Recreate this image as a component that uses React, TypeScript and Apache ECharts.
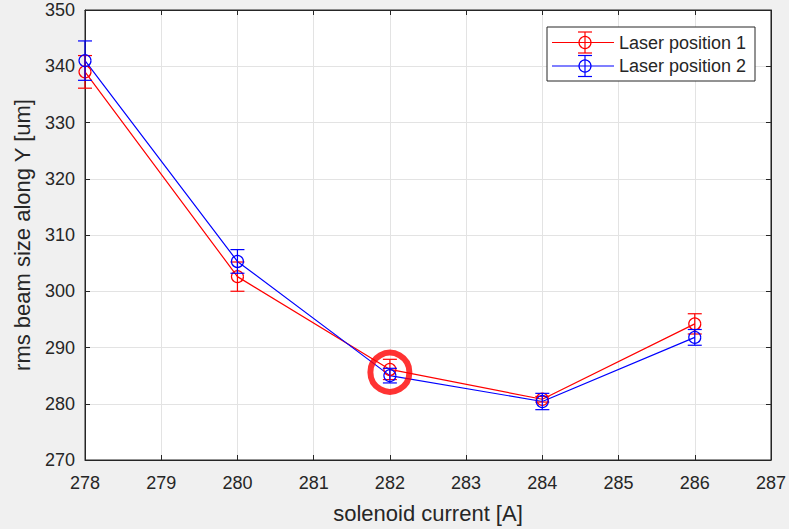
import React, { useEffect, useRef } from "react";
import * as echarts from "echarts";

const current = [278, 280, 282, 284, 286];
const pos1 = [339.0, 302.6, 286.1, 280.8, 294.2];
const err1 = [2.9, 2.6, 1.8, 0.5, 1.8];
const pos2 = [341.0, 305.3, 285.0, 280.4, 291.8];
const err2 = [3.5, 2.1, 1.3, 1.45, 1.4];
const seriesNames = ["Laser position 1", "Laser position 2"];
const annotation = [[282, 285.6]];
const xName = "solenoid current [A]";
const yName = "rms beam size along Y [um]";

const FONT = "'Liberation Sans', Arial, Helvetica, sans-serif";
const TXT = "#262626";
const RED = "#ff0000";
const BLUE = "#0000ff";

function errData(vals: number[], errs: number[]) {
  return current.map((x, i) => [x, vals[i] - errs[i], vals[i] + errs[i], vals[i]]);
}

function errorBarSeries(vals: number[], errs: number[], color: string) {
  return {
    type: "custom",
    data: errData(vals, errs),
    encode: { x: 0, y: [1, 2] },
    z: 5,
    silent: true,
    renderItem: (params: any, api: any) => {
      const x = api.value(0);
      const lo = api.coord([x, api.value(1)]);
      const hi = api.coord([x, api.value(2)]);
      const c = api.coord([x, api.value(3)]);
      const hw = 7;
      const style = { stroke: color, lineWidth: 1.2, fill: "none" };
      return {
        type: "group",
        children: [
          { type: "line", shape: { x1: lo[0], y1: lo[1], x2: hi[0], y2: hi[1] }, style },
          { type: "line", shape: { x1: lo[0] - hw, y1: lo[1], x2: lo[0] + hw, y2: lo[1] }, style },
          { type: "line", shape: { x1: hi[0] - hw, y1: hi[1], x2: hi[0] + hw, y2: hi[1] }, style },
          { type: "circle", shape: { cx: c[0], cy: c[1], r: 6 }, style },
        ],
      };
    },
  };
}

function lineSeries(name: string, vals: number[], color: string) {
  return {
    name,
    type: "line",
    data: current.map((x, i) => [x, vals[i]]),
    symbol: "none",
    z: 4,
    silent: true,
    lineStyle: { color, width: 1.2 },
  };
}

function legendRow(y: number, color: string, text: string) {
  const style = { stroke: color, lineWidth: 1.2, fill: "none" };
  const cx = 585;
  return [
    { type: "line", shape: { x1: 552, y1: y, x2: 614, y2: y }, style },
    { type: "circle", shape: { cx, cy: y, r: 6 }, style },
    { type: "line", shape: { x1: cx, y1: y - 10.5, x2: cx, y2: y + 10.5 }, style },
    { type: "line", shape: { x1: cx - 7, y1: y - 10.5, x2: cx + 7, y2: y - 10.5 }, style },
    { type: "line", shape: { x1: cx - 7, y1: y + 10.5, x2: cx + 7, y2: y + 10.5 }, style },
    {
      type: "text",
      x: 619,
      y,
      style: { text, fill: TXT, font: `18px ${FONT}`, verticalAlign: "middle", align: "left" },
    },
  ];
}

export default function App() {
  const ref = useRef<HTMLDivElement>(null);
  useEffect(() => {
    document.body.style.margin = "0";
    const chart = echarts.init(ref.current!, null, { renderer: "svg" });
    const axisCommon = {
      type: "value",
      axisLine: { show: true, lineStyle: { color: TXT, width: 1 } },
      axisTick: { show: true, inside: true, length: 5, lineStyle: { color: TXT } },
    };
    chart.setOption({
      animation: false,
      backgroundColor: "#f0f0f0",
      textStyle: { fontFamily: FONT },
      grid: {
        left: 85,
        right: 18,
        top: 10,
        bottom: 64,
        show: true,
        backgroundColor: "#ffffff",
        borderColor: TXT,
        borderWidth: 1,
      },
      xAxis: [
        {
          ...axisCommon,
          min: 278,
          max: 287,
          interval: 1,
          position: "bottom",
          name: xName,
          nameLocation: "middle",
          nameGap: 42,
          nameTextStyle: { fontSize: 22, color: TXT, fontFamily: FONT },
          axisLabel: { fontSize: 18, color: TXT, margin: 14, fontFamily: FONT },
          splitLine: { show: true, lineStyle: { color: "#e3e3e3", width: 1 } },
        },
        {
          ...axisCommon,
          min: 278,
          max: 287,
          interval: 1,
          position: "top",
          axisLabel: { show: false },
          splitLine: { show: false },
        },
      ],
      yAxis: [
        {
          ...axisCommon,
          min: 270,
          max: 350,
          interval: 10,
          position: "left",
          name: yName,
          nameLocation: "middle",
          nameGap: 52,
          nameTextStyle: { fontSize: 22, color: TXT, fontFamily: FONT },
          axisLabel: { fontSize: 18, color: TXT, margin: 10, fontFamily: FONT },
          splitLine: { show: true, lineStyle: { color: "#e3e3e3", width: 1 } },
        },
        {
          ...axisCommon,
          min: 270,
          max: 350,
          interval: 10,
          position: "right",
          axisLabel: { show: false },
          splitLine: { show: false },
        },
      ],
      series: [
        lineSeries(seriesNames[0], pos1, RED),
        lineSeries(seriesNames[1], pos2, BLUE),
        errorBarSeries(pos1, err1, RED),
        errorBarSeries(pos2, err2, BLUE),
        {
          type: "scatter",
          data: annotation,
          symbol: "circle",
          symbolSize: 39,
          z: 6,
          silent: true,
          itemStyle: { color: "rgba(0,0,0,0)", borderColor: RED, borderWidth: 6 },
        },
      ],
      graphic: [
        {
          type: "group",
          z: 100,
          children: [
            {
              type: "rect",
              z: 100,
              shape: { x: 547, y: 27, width: 208, height: 54 },
              style: { fill: "#ffffff", stroke: TXT, lineWidth: 1 },
            },
            ...legendRow(42.5, RED, seriesNames[0]).map((e) => ({ ...e, z: 101 })),
            ...legendRow(66, BLUE, seriesNames[1]).map((e) => ({ ...e, z: 101 })),
          ],
        },
      ],
    });
    return () => chart.dispose();
  }, []);
  return (
    <div
      ref={ref}
      style={{ position: "fixed", left: 0, top: 0, width: 789, height: 529 }}
    />
  );
}
